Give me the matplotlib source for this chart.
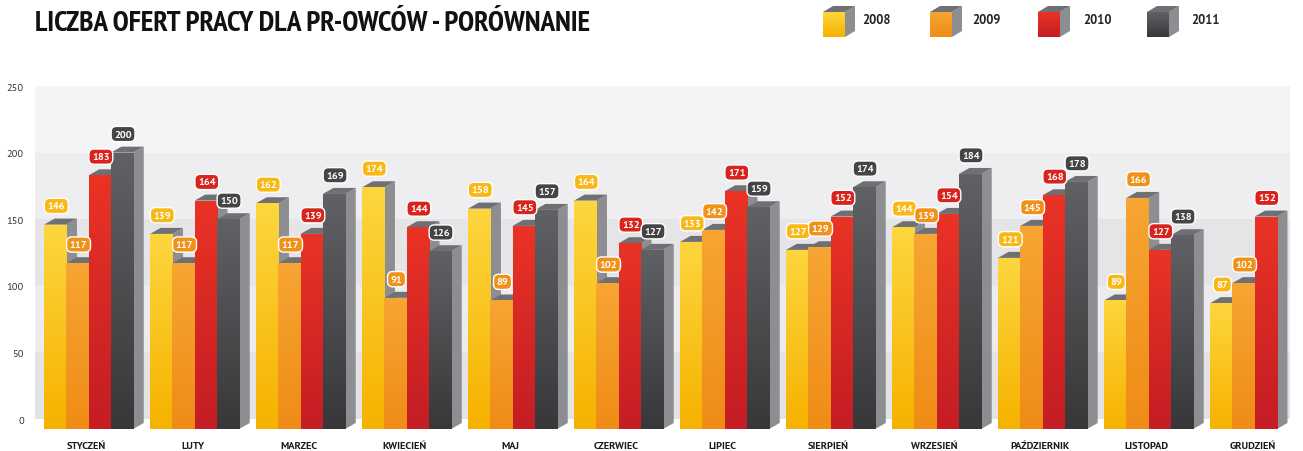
import numpy as np
import matplotlib
import matplotlib.pyplot as plt
from matplotlib.patches import Polygon, Rectangle
from matplotlib import font_manager

matplotlib.use('Agg')

months = ["STYCZEŃ", "LUTY", "MARZEC", "KWIECIEŃ", "MAJ", "CZERWIEC", "LIPIEC",
          "SIERPIEŃ", "WRZESIEŃ", "PAŹDZIERNIK", "LISTOPAD", "GRUDZIEŃ"]
years = ["2008", "2009", "2010", "2011"]
v2008 = [146, 139, 162, 174, 158, 164, 133, 127, 144, 121, 89, 87]
v2009 = [117, 117, 117, 91, 89, 102, 142, 129, 139, 145, 166, 102]
v2010 = [183, 164, 139, 144, 145, 132, 171, 152, 154, 168, 127, 152]
v2011 = [200, 150, 169, 126, 157, 127, 159, 174, 184, 178, 138, None]
yticks = [0, 50, 100, 150, 200, 250]

series = [v2008, v2009, v2010, v2011]
# (top of front face, bottom of front face, badge colour)
colors = [("#fdd63e", "#f6b200", "#f8b916"),
          ("#f7a533", "#ef8c16", "#f09119"),
          ("#ea3325", "#c41d24", "#d7251d"),
          ("#606164", "#38383a", "#454547")]

W, H = 1303, 452
fig = plt.figure(figsize=(W / 100, H / 100), dpi=100)


def pick(cands):
    names = {f.name for f in font_manager.fontManager.ttflist}
    for c in cands:
        if c in names:
            return c
    return "DejaVu Sans"


cond = pick(["PT Sans Narrow", "Open Sans Condensed", "Asap Condensed",
             "Barlow Semi Condensed"])
body = pick(["PT Sans", "Open Sans", "Lato"])

# axes in pixel terms: x 35..1290, y 80..432 (from top)
ax = fig.add_axes([35 / W, (H - 432) / H, (1290 - 35) / W, 352 / H])
ax.set_xlim(-0.506, 11.334)
ax.set_ylim(-9, 255.3)
for s in ax.spines.values():
    s.set_visible(False)
ax.tick_params(length=0)
ax.set_yticks(yticks)
ax.set_yticklabels([str(t) for t in yticks], fontsize=7.5, color="#333333", family=body)
ax.tick_params(axis="y", pad=8)
ax.set_xticks([])

# background bands
bands = ["#e3e3e5", "#ececee", "#e5e5e7", "#eeeef0", "#f4f4f6"]
for k, c in enumerate(bands):
    ax.add_patch(Rectangle((-0.506, k * 50), 12, 50, fc=c, ec="none", zorder=0))
ax.add_patch(Rectangle((-0.506, -9), 12, 9, fc="white", ec="none", zorder=0))

bw = 0.21
dx, dy = 0.1, 4.5
base = -7.5


def grad_img(c1, c2):
    a = np.array(matplotlib.colors.to_rgb(c1))
    b = np.array(matplotlib.colors.to_rgb(c2))
    t = np.linspace(0, 1, 64)[:, None]
    return (a * (1 - t) + b * t)[:, None, :]


for i in range(len(months)):
    for j, vals in enumerate(series):
        v = vals[i]
        if v is None:
            continue
        x0 = i + (j - 2) * bw
        x1 = x0 + bw
        z = 2 + i * 0.1 + j * 0.01
        side = Polygon([(x1, base), (x1 + dx, base + dy), (x1 + dx, v + dy), (x1, v)],
                       closed=True, fc="#8d8e91", ec="none", zorder=z)
        top = Polygon([(x0, v), (x0 + dx, v + dy), (x1 + dx, v + dy), (x1, v)],
                      closed=True, fc="#6f7073", ec="none", zorder=z)
        ax.add_patch(side)
        ax.add_patch(top)
        img = ax.imshow(grad_img(colors[j][0], colors[j][1]), extent=(x0, x1, base, v),
                        aspect="auto", origin="upper", zorder=z + 0.001)
        front = Rectangle((x0, base), bw, v - base, fc="none", ec="none", zorder=z)
        ax.add_patch(front)
        img.set_clip_path(front)
        ax.text(x0 + bw / 2 + 0.01, v + 14, str(v), ha="center", va="center",
                fontsize=7.5, fontweight="bold", color="white", zorder=10, family=body,
                bbox=dict(boxstyle="round,pad=0.3,rounding_size=0.5",
                          fc=colors[j][2], ec="white", lw=1.0))

for i, m in enumerate(months):
    ax.text(i - 0.02, -20, m, ha="center", va="center", fontsize=7.5,
            fontweight="bold", color="#1a1a1a", clip_on=False, family=body)

ax.set_xlim(-0.506, 11.334)
ax.set_ylim(-9, 255.3)

# title
fig.text(35 / W, 1 - 24 / H, "LICZBA OFERT PRACY DLA PR-OWCÓW - PORÓWNANIE",
         fontsize=21, fontweight="bold", family=cond, va="center", ha="left",
         color="#111111")

# legend with small cubes
lax = fig.add_axes([0, 0, 1, 1])
lax.set_xlim(0, W)
lax.set_ylim(H, 0)
lax.axis("off")
lx = [823, 930, 1038, 1147]
tx = [862, 972, 1083, 1191]
for k in range(4):
    x0, x1 = lx[k], lx[k] + 22
    yt, yb = 13, 38
    lax.add_patch(Polygon([(x1, yb), (x1 + 10, yb - 6), (x1 + 10, yt - 6), (x1, yt)],
                          fc="#8d8e91", ec="none"))
    lax.add_patch(Polygon([(x0, yt), (x0 + 10, yt - 6), (x1 + 10, yt - 6), (x1, yt)],
                          fc="#6f7073", ec="none"))
    im = lax.imshow(grad_img(colors[k][0], colors[k][1]), extent=(x0, x1, yb, yt),
                    aspect="auto", origin="upper")
    lax.text(tx[k], 20, years[k], fontsize=9, fontweight="bold", va="center",
             ha="left", color="#222222", family=body)
lax.set_xlim(0, W)
lax.set_ylim(H, 0)

fig.savefig("out.png", dpi=100)
